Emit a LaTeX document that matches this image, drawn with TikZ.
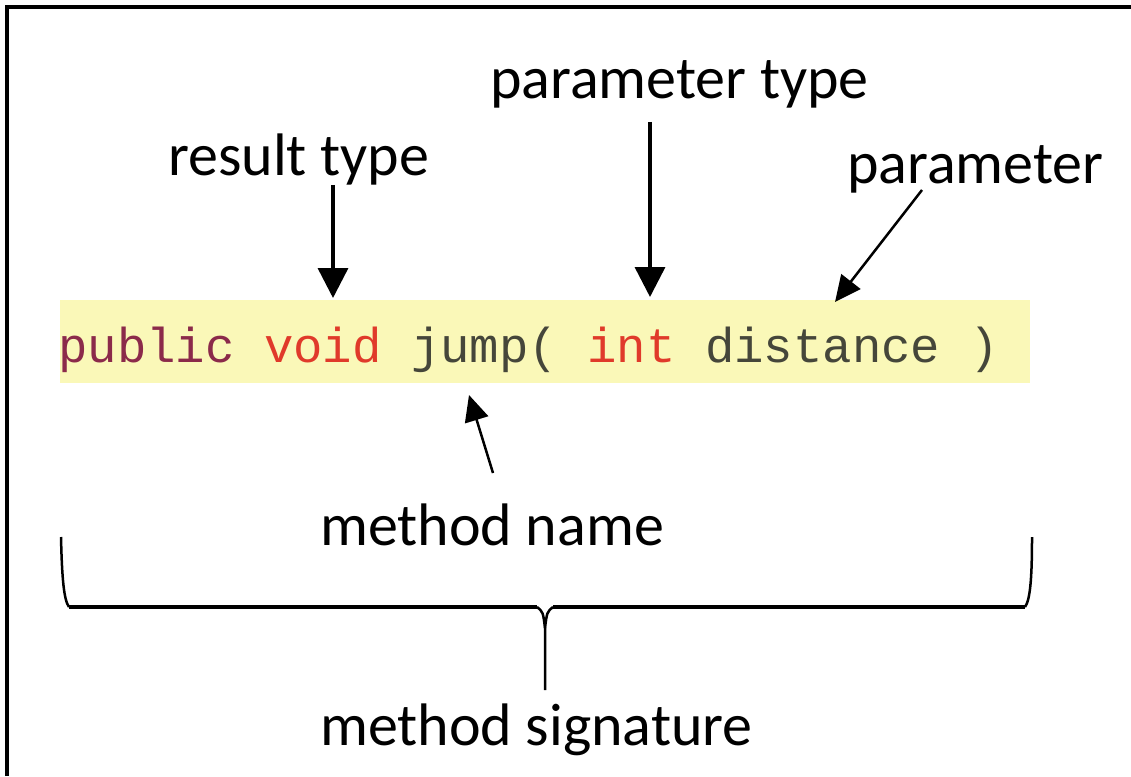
\documentclass[tikz,border=0pt]{standalone}
\usepackage{fontspec}
\setmainfont{Carlito}
\newfontfamily\codefont{Liberation Mono}
\usetikzlibrary{arrows.meta,calc}
\definecolor{hl}{HTML}{FAF8B8}
\definecolor{kwA}{HTML}{8B2A4A}
\definecolor{kwB}{HTML}{E03A2A}
\definecolor{codeC}{HTML}{45463A}
\begin{document}
\begin{tikzpicture}[x=1pt,y=-1pt,
  lbl/.style={anchor=base west, inner sep=0pt, font=\fontsize{60}{72}\selectfont},
  bigarr/.style={line width=3.5pt, -{Triangle[width=30pt,length=30pt]}},
  smallarr/.style={line width=2.5pt, -{Triangle[width=24pt,length=26pt]}},
  bracepart/.style={line width=2.5pt, line join=round}]
\useasboundingbox (0,0) rectangle (1131,776);
\fill[white] (0,0) rectangle (1131,776);
\draw[line width=4pt] (7,776) -- (7,7) -- (1131,7);
% highlighted code line
\fill[hl] (60,300) rectangle (1030,383);
\node[anchor=base west, inner sep=0pt, font=\codefont\fontsize{49}{58}\selectfont] (code) at (58,362)
  {\textcolor{kwA}{public} \textcolor{kwB}{void} \textcolor{codeC}{jump(} \textcolor{kwB}{int} \textcolor{codeC}{distance )}};
% labels
\node[lbl] (rt) at (168,175) {result type};
\node[lbl] (pt) at (490,98) {parameter type};
\node[lbl] (pm) at (847,183) {parameter};
\node[lbl] (mn) at (320,545) {method name};
\node[lbl] (ms) at (320,745) {method signature};
% arrow targets
\coordinate (rtT) at (333,298);
\coordinate (ptT) at (650,297);
\coordinate (pmT) at (835,302);
\coordinate (mnT) at (469,395);
\draw[bigarr] (rt.south -| rtT) -- (rtT);
\draw[bigarr] ([yshift=-14pt]pt.south -| ptT) -- (ptT);
\draw[smallarr] ($(pm.base west)+(75,7)$) -- (pmT);
\draw[smallarr] ($(mn.base west)+(173,-72)$) -- (mnT);
% brace
\coordinate (bl) at (61,537);
\coordinate (br) at (1032,537);
\coordinate (bm) at (545,628);
\coordinate (bs) at (545,690);
\draw[bracepart] (bl) .. controls (62,580) and (64,600) .. (69,607);
\draw[bracepart] (br) .. controls (1032,580) and (1030,600) .. (1025,607);
\draw[line width=4pt] (69,607) -- (537,607);
\draw[line width=4pt] (553,607) -- (1025,607);
\draw[bracepart] (537,607) .. controls (543,612) .. (bm) -- (bs);
\draw[bracepart] (553,607) .. controls (547,612) .. (bm);
\end{tikzpicture}
\end{document}
